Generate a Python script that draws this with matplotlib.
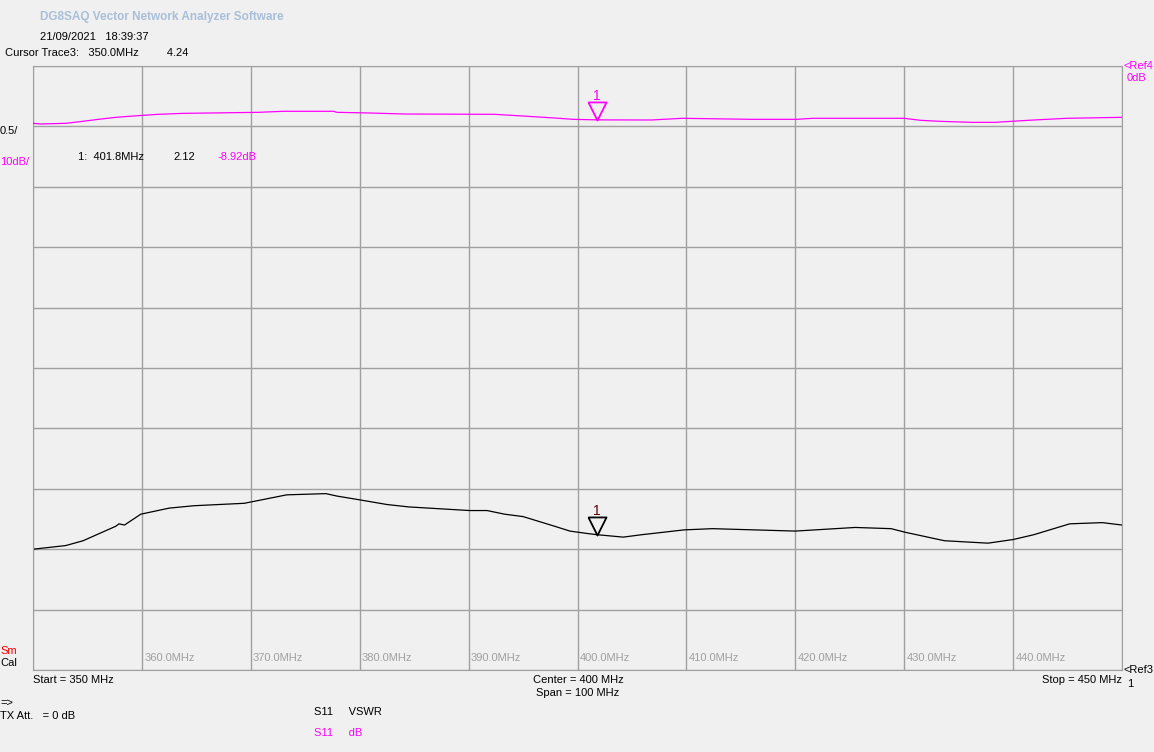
import numpy as np
from matplotlib import pyplot as plt

# Trace S11 VSWR (preto)
freq_vswr = [350.0, 353.0, 354.6, 357.6, 357.9, 358.4, 359.9, 362.5, 364.8, 369.4,
             373.3, 376.9, 377.9, 379.9, 382.5, 384.5, 390.1, 391.7, 393.3, 395.0,
             397.9, 399.3, 400.9, 401.8, 404.2, 405.9, 409.8, 412.4, 420.0, 425.5,
             428.8, 430.1, 433.7, 437.7, 440.0, 441.9, 445.2, 448.2, 450.0]
vswr = [2.00, 2.03, 2.07, 2.19, 2.21, 2.20, 2.29, 2.34, 2.36, 2.38,
        2.45, 2.46, 2.44, 2.41, 2.37, 2.35, 2.32, 2.32, 2.29, 2.27,
        2.19, 2.15, 2.13, 2.12, 2.10, 2.12, 2.16, 2.17, 2.15, 2.18,
        2.17, 2.14, 2.07, 2.05, 2.08, 2.12, 2.21, 2.22, 2.20]

# Trace S11 dB (magenta)
freq_db = [350.0, 350.7, 353.0, 354.3, 356.0, 357.6, 359.2, 361.5, 363.8, 370.7,
           373.0, 377.6, 377.9, 380.9, 384.2, 392.4, 395.0, 397.9, 399.6, 401.8,
           406.8, 409.6, 416.0, 420.1, 421.6, 430.0, 431.5, 433.3, 436.2, 438.3,
           440.3, 441.9, 444.9, 450.0]
s11_db = [-9.49, -9.60, -9.49, -9.22, -8.83, -8.50, -8.28, -8.00, -7.84, -7.67,
          -7.50, -7.50, -7.67, -7.78, -7.95, -8.00, -8.28, -8.61, -8.83, -8.92,
          -8.94, -8.66, -8.83, -8.83, -8.66, -8.66, -8.99, -9.16, -9.33, -9.33,
          -9.11, -8.94, -8.66, -8.50]

marker_freq = 401.8
marker_vswr = 2.12
marker_db = -8.92
grid_freqs = [360, 370, 380, 390, 400, 410, 420, 430, 440]

W, H = 1154, 752
BG = '#f0f0f0'
GRID = '#a0a0a0'
MAG = '#ff00ff'

plt.rcParams['font.family'] = ['Liberation Sans', 'DejaVu Sans']
plt.rcParams['font.size'] = 8

fig = plt.figure(figsize=(W / 100, H / 100), dpi=100, facecolor=BG)
ax = fig.add_axes([33 / W, (H - 670) / H, 1089 / W, 604 / H], facecolor=BG)
ax.set_xlim(350, 450)
ax.set_ylim(1, 6)
ax.set_xticks(np.arange(350, 451, 10))
ax.set_yticks(np.arange(1, 6.01, 0.5))
ax.tick_params(length=0, labelbottom=False, labelleft=False)
ax.grid(True, color=GRID, lw=1)
for s in ax.spines.values():
    s.set_color(GRID)

ax2 = ax.twinx()
ax2.set_ylim(-100, 0)
ax2.set_yticks([])
ax2.tick_params(length=0, labelright=False)
for s in ax2.spines.values():
    s.set_visible(False)

ax.plot(freq_vswr, vswr, color='black', lw=0.9)
ax2.plot(freq_db, s11_db, color=MAG, lw=0.9)

# Marcadores (triângulo com a ponta no ponto)
tri = [(-0.5, 1), (0.5, 1), (0, 0), (-0.5, 1)]
ax.plot([marker_freq], [marker_vswr], marker=tri, ms=26, mfc='none', mec='black', mew=1.3)
ax.annotate('1', (marker_freq, marker_vswr), xytext=(0, 12), textcoords='offset points',
            ha='center', va='bottom', color='#600000', fontsize=10)
ax2.plot([marker_freq], [marker_db], marker=tri, ms=26, mfc='none', mec=MAG, mew=1.3)
ax2.annotate('1', (marker_freq, marker_db), xytext=(0, 12), textcoords='offset points',
             ha='center', va='bottom', color=MAG, fontsize=10)

for f in grid_freqs:
    ax.text(f + 0.2, 1.06, f'{f:.1f}MHz', color=GRID, fontsize=8, ha='left', va='bottom')


def txt(x, y, s, **kw):
    kw.setdefault('va', 'center')
    fig.text(x / W, 1 - y / H, s, **kw)


txt(40, 17, 'DG8SAQ Vector Network Analyzer Software', color='#a9bfd9', fontweight='bold', fontsize=8.5)
txt(40, 37, '21/09/2021   18:39:37')
txt(5, 53, 'Cursor Trace3:   350.0MHz         4.24')
txt(0, 131, '0.5/')
txt(0, 162, '10dB/', color=MAG)
txt(78, 157, '1:  401.8MHz')
txt(173, 157, '2.12')
txt(217, 157, '-8.92dB', color=MAG)
txt(1123, 66, '<Ref4', color=MAG)
txt(1127, 78, '0dB', color=MAG)
txt(1123, 670, '<Ref3')
txt(1127, 684, '1')
txt(0, 651, 'Sm', color='red')
txt(0, 663, 'Cal')
txt(33, 680, 'Start = 350 MHz')
txt(578, 680, 'Center = 400 MHz', ha='center')
txt(578, 693, 'Span = 100 MHz', ha='center')
txt(1122, 680, 'Stop = 450 MHz', ha='right')
txt(0, 703, '=>')
txt(0, 716, 'TX Att.   = 0 dB')
txt(314, 712, 'S11     VSWR')
txt(314, 733, 'S11     dB', color=MAG)

fig.savefig('out.png', dpi=100, facecolor=BG)
